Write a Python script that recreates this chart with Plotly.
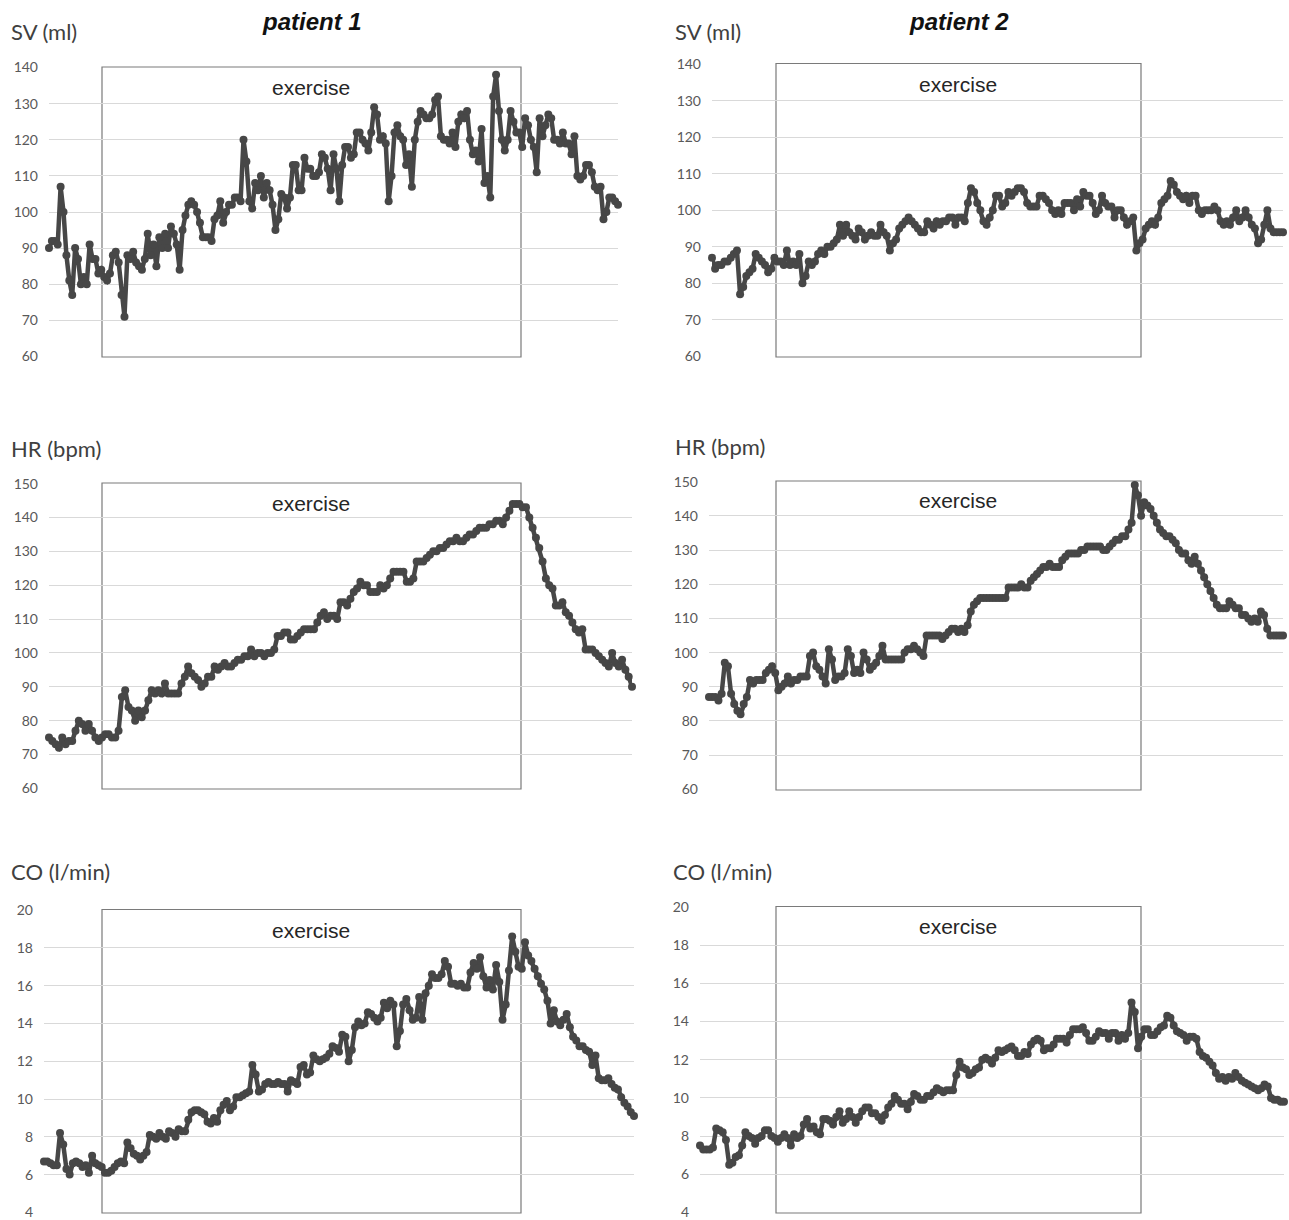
import plotly.graph_objects as go

# ---------------- data ----------------
sv1 = [90,92,92,91,107,100,88,81,77,90,87,80,82,80,91,87,87,83,84,82,81,83,88,89,86,77,71,88,87,89,86,85,84,87,94,88,91,85,93,90,94,90,96,94,91,84,95,99,102,103,102,100,97,93,93,93,92,98,99,103,97,100,102,102,104,104,103,120,114,103,101,108,106,110,104,108,106,102,95,98,105,104,101,104,113,113,106,106,115,112,112,110,110,111,116,115,112,106,116,112,103,113,118,118,115,116,122,122,120,119,117,122,129,127,120,121,119,103,110,122,124,121,120,113,116,107,120,125,128,127,126,126,127,131,132,121,120,120,119,122,118,125,127,126,128,120,116,117,114,123,108,110,104,132,138,128,120,117,120,128,125,122,122,118,126,124,120,118,111,126,121,124,127,126,120,120,119,122,119,119,116,121,110,109,110,113,113,111,107,106,107,98,100,104,104,103,102]

hr1 = [75,74,73,72,75,73,74,74,77,80,79,77,79,77,75,74,75,76,76,75,75,77,87,89,84,83,80,83,81,83,86,89,88,89,88,91,88,88,88,88,91,93,96,94,93,92,90,91,93,93,96,95,96,97,96,96,97,98,98,99,99,101,99,100,100,99,100,100,101,105,105,106,106,104,104,105,106,107,107,107,107,109,111,112,110,111,111,110,115,115,114,116,118,119,121,120,120,118,118,118,120,119,120,122,124,124,124,124,121,121,122,127,127,127,128,129,130,130,131,131,132,133,133,134,133,133,134,135,135,136,137,137,137,138,138,139,139,138,140,142,144,144,144,143,143,140,137,134,131,127,122,120,119,114,114,115,112,111,109,107,106,107,101,101,101,100,99,98,97,96,100,97,96,98,95,93,90]

co1 = [6.7,6.7,6.6,6.5,6.5,8.2,7.6,6.3,6.0,6.6,6.7,6.6,6.4,6.5,6.1,7.0,6.6,6.5,6.4,6.1,6.1,6.2,6.4,6.6,6.7,6.6,7.7,7.4,7.1,7.0,6.8,7.0,7.2,8.1,8.0,7.9,8.2,8.0,7.9,8.3,8.2,8.0,8.4,8.3,8.3,8.9,9.3,9.4,9.4,9.3,9.2,8.8,8.7,9.0,8.8,9.4,9.7,9.9,9.4,9.6,10.1,10.1,10.2,10.3,10.4,11.8,11.3,10.4,10.5,10.8,10.9,10.8,10.8,10.9,10.8,10.8,10.4,11.0,10.9,10.8,11.7,11.8,11.3,11.4,12.3,12.1,12.0,12.1,12.2,12.4,12.8,12.7,12.5,13.4,13.3,12.0,12.6,13.8,14.1,13.9,14.0,14.6,14.5,14.3,14.1,14.3,15.1,14.8,15.2,15.0,12.8,13.6,15.0,15.3,14.7,14.2,14.3,15.4,14.2,15.6,16.0,16.6,16.4,16.4,16.6,17.3,17.0,16.1,16.1,16.0,16.1,15.9,15.9,16.7,17.2,16.9,17.5,16.5,15.9,16.3,15.8,17.1,16.2,14.2,15.0,16.8,18.6,17.8,17.0,16.9,18.3,17.6,17.3,16.9,16.5,16.1,15.8,15.2,14.0,14.7,14.1,13.9,14.2,14.5,13.8,13.3,13.1,12.8,12.8,12.6,12.5,11.8,12.3,11.1,11.0,11.0,11.1,10.8,10.6,10.5,10.1,9.8,9.6,9.3,9.1]

sv2 = [87,84,85,85,86,86,87,88,89,77,79,82,83,84,88,87,86,85,83,84,87,86,86,85,89,85,86,85,88,80,82,86,85,86,88,89,88,90,90,91,92,96,93,96,94,93,92,95,94,92,93,94,93,93,96,94,93,89,91,92,95,96,97,98,97,96,95,94,94,97,96,95,97,96,97,97,98,98,96,98,98,97,102,106,105,102,100,97,96,98,100,104,104,101,102,105,104,105,106,106,105,102,101,101,101,104,104,103,102,100,99,100,99,102,102,102,100,103,101,105,104,104,102,99,100,104,102,101,101,98,100,100,98,96,97,98,89,91,92,95,96,97,96,98,102,103,104,108,107,105,104,103,104,102,104,104,100,99,100,100,100,101,100,97,96,97,96,98,100,97,98,100,98,96,95,91,92,96,100,95,94,94,94,94]

hr2 = [87,87,87,86,88,97,96,88,85,83,82,85,87,92,91,92,92,92,94,95,96,94,89,90,91,93,91,92,92,93,93,93,99,100,96,95,93,91,101,98,92,93,93,94,101,99,94,95,94,100,98,95,96,97,99,102,98,98,98,98,98,98,100,101,101,102,101,100,99,105,105,105,105,105,104,105,106,107,107,106,107,106,108,112,114,115,116,116,116,116,116,116,116,116,116,119,119,119,119,120,119,119,121,122,123,124,125,125,126,125,125,125,127,128,129,129,129,129,130,130,131,131,131,131,131,130,130,131,132,133,133,134,134,136,138,149,146,140,144,143,142,140,138,136,135,134,134,133,132,130,129,129,127,126,128,126,124,122,120,118,116,114,113,113,113,115,114,113,113,111,111,110,109,110,109,112,111,107,105,105,105,105,105]

co2 = [7.5,7.3,7.3,7.3,7.4,8.4,8.3,8.2,7.8,6.5,6.6,6.9,7.0,7.5,8.2,8.0,7.9,7.6,7.9,8.0,8.3,8.3,8.0,7.9,7.7,7.9,8.1,7.9,7.5,8.1,7.9,8.0,8.6,8.9,8.4,8.5,8.2,8.1,8.9,8.9,8.8,8.6,9.0,9.3,8.7,8.9,9.3,9.0,8.7,9.0,9.3,9.5,9.5,9.2,9.2,9.0,8.8,9.1,9.5,9.7,10.1,9.9,9.7,9.7,9.4,9.8,10.2,10.1,9.9,9.9,10.1,10.1,10.3,10.5,10.4,10.3,10.4,10.4,10.4,11.2,11.9,11.6,11.5,11.2,11.3,11.5,11.6,12.0,12.1,12.0,11.8,12.1,12.5,12.4,12.5,12.6,12.7,12.5,12.2,12.2,12.4,12.3,12.8,13.0,13.1,13.0,12.5,12.6,12.6,12.8,13.1,13.1,13.1,12.9,13.3,13.6,13.6,13.6,13.7,13.4,13.0,13.0,13.2,13.5,13.4,13.4,13.1,13.4,13.4,13.0,13.3,13.1,13.4,15.0,14.5,12.6,13.2,13.6,13.6,13.3,13.3,13.5,13.7,13.8,14.3,14.2,13.8,13.5,13.4,13.3,13.0,13.2,13.2,13.1,12.4,12.2,12.1,11.9,11.7,11.3,11.0,11.1,10.9,11.1,11.0,11.3,11.1,10.9,10.8,10.7,10.6,10.5,10.4,10.5,10.7,10.6,10.0,9.9,9.9,9.8,9.8]

sv_ticks = [60, 70, 80, 90, 100, 110, 120, 130, 140]
hr_ticks = [60, 70, 80, 90, 100, 110, 120, 130, 140, 150]
co_ticks = [4, 6, 8, 10, 12, 14, 16, 18, 20]

patients = ["patient 1", "patient 2"]
y_titles = ["SV (ml)", "HR (bpm)", "CO (l/min)"]
exercise_label = "exercise"

# ---------------- layout geometry (pixels) ----------------
W, H = 1289, 1220

def px(x):
    return x / W

def py(y):
    return 1 - y / H

panels = [
    dict(y=sv1, ticks=sv_ticks, box=(49, 618, 67, 357), ex=(102, 521), title=(9, 31), lab=(311, 87)),
    dict(y=hr1, ticks=hr_ticks, box=(49, 632, 483, 789), ex=(102, 521), title=(9, 448), lab=(311, 503)),
    dict(y=co1, ticks=co_ticks, box=(44, 634, 909.5, 1213), ex=(102, 521), title=(9, 871), lab=(311, 931)),
    dict(y=sv2, ticks=sv_ticks, box=(712, 1283, 63.5, 357), ex=(776, 1141), title=(673, 31), lab=(958, 84)),
    dict(y=hr2, ticks=hr_ticks, box=(709, 1283, 481, 790), ex=(776, 1141), title=(673, 446), lab=(958, 500)),
    dict(y=co2, ticks=co_ticks, box=(700, 1284, 906.5, 1213), ex=(776, 1141), title=(671, 871), lab=(958, 926)),
]

fig = go.Figure()
layout = dict(
    width=W, height=H,
    margin=dict(l=0, r=0, t=0, b=0, autoexpand=False),
    paper_bgcolor="white", plot_bgcolor="white",
    showlegend=False,
    shapes=[], annotations=[],
)

line_color = "#474747"

for i, p in enumerate(panels, start=1):
    sfx = "" if i == 1 else str(i)
    vals = p["y"]
    t = list(range(len(vals)))
    fig.add_trace(go.Scatter(
        x=t, y=vals, mode="lines+markers",
        xaxis="x" + sfx, yaxis="y" + sfx,
        line=dict(color=line_color, width=4.5),
        marker=dict(color=line_color, size=8),
        cliponaxis=False, hoverinfo="skip",
    ))
    x0, x1, yt, yb = p["box"]
    ticks = p["ticks"]
    lo, hi = ticks[0], ticks[-1]
    pad = (hi - lo) * 0.002
    layout["xaxis" + sfx] = dict(
        domain=[px(x0), px(x1)], range=[0, len(vals) - 1],
        anchor="y" + sfx, showgrid=False, zeroline=False,
        showticklabels=False, showline=False, ticks="",
        automargin=False,
    )
    layout["yaxis" + sfx] = dict(
        domain=[py(yb), py(yt)], range=[lo - pad, hi + pad],
        anchor="x" + sfx, tickvals=ticks,
        showgrid=True, gridcolor="#d9d9d9", gridwidth=1,
        zeroline=False, showline=False, ticks="",
        ticklabelstandoff=10, automargin=False,
        ticklabeloverflow="allow",
        tickfont=dict(family="Lato", size=14, color="#595959"),
    )
    ex0, ex1 = p["ex"]
    layout["shapes"].append(dict(
        type="rect", xref="paper", yref="paper",
        x0=px(ex0), x1=px(ex1), y0=py(yb), y1=py(yt),
        line=dict(color="#7a7a7a", width=1.2), fillcolor="rgba(0,0,0,0)",
        layer="below",
    ))
    lx, ly = p["lab"]
    layout["annotations"].append(dict(
        text=exercise_label, xref="paper", yref="paper",
        x=px(lx), y=py(ly), xanchor="center", yanchor="middle",
        showarrow=False,
        font=dict(family="Liberation Sans", size=21, color="#262626"),
    ))
    tx, ty = p["title"]
    layout["annotations"].append(dict(
        text=y_titles[(i - 1) % 3], xref="paper", yref="paper",
        x=px(tx), y=py(ty), xanchor="left", yanchor="middle",
        showarrow=False,
        font=dict(family="Lato", size=22, color="#404040"),
    ))

for name, cx in zip(patients, [312, 959]):
    layout["annotations"].append(dict(
        text="<b><i>" + name + "</i></b>", xref="paper", yref="paper",
        x=px(cx), y=py(22), xanchor="center", yanchor="middle",
        showarrow=False,
        font=dict(family="Liberation Sans", size=24, color="#111111"),
    ))

fig.update_layout(**layout)
fig.write_html("out.html")
